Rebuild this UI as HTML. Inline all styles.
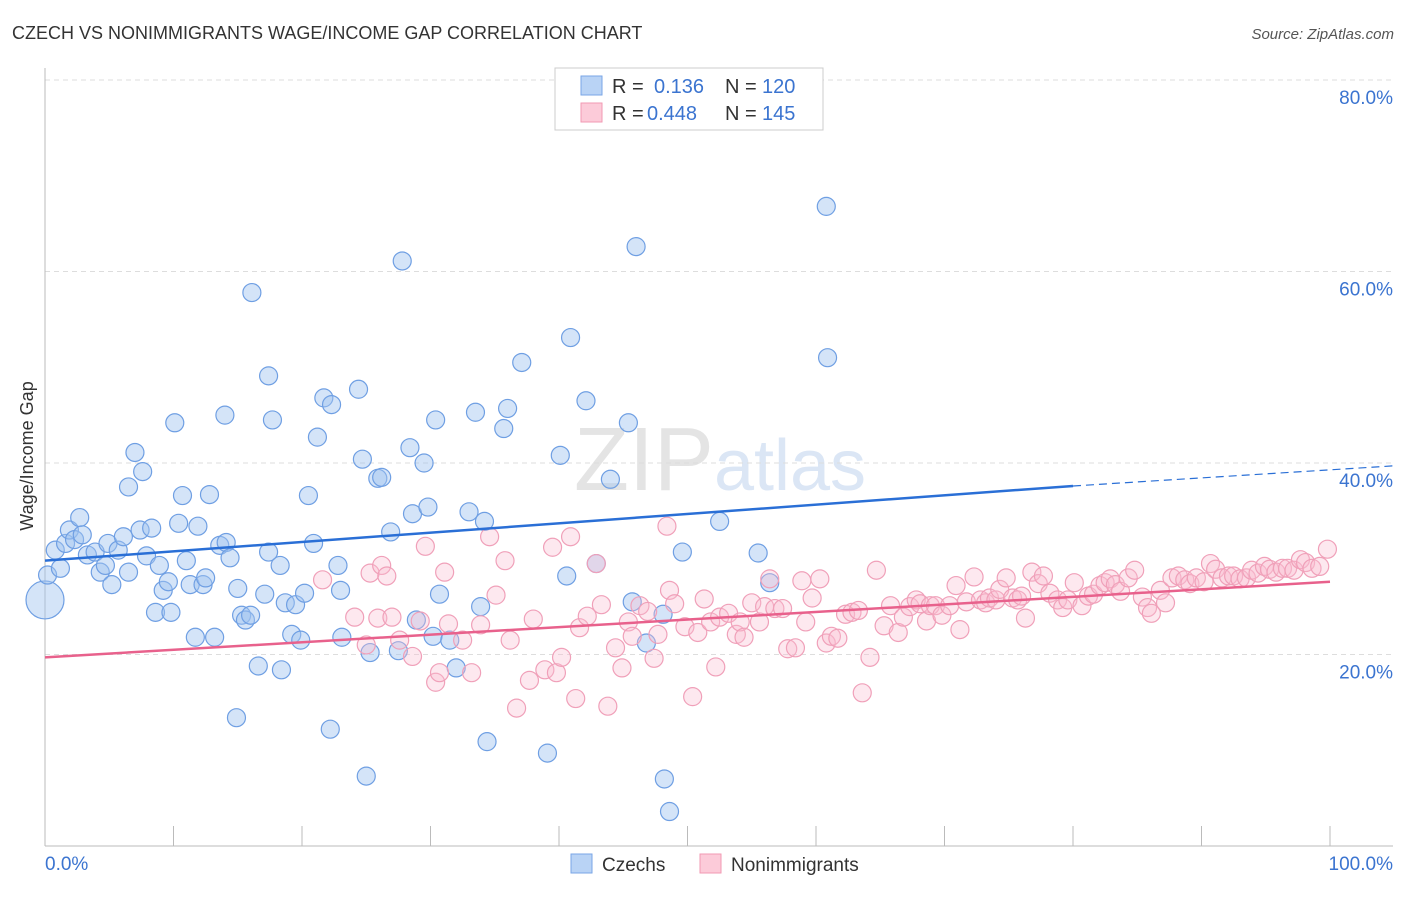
<!DOCTYPE html>
<html><head><meta charset="utf-8"><style>
body{margin:0;background:#fff;font-family:"Liberation Sans",sans-serif;}
svg text{font-family:"Liberation Sans",sans-serif;}
</style></head><body>
<svg id="chart" width="1406" height="892" xmlns="http://www.w3.org/2000/svg">
<text x="12" y="39" font-size="18" fill="#333">CZECH VS NONIMMIGRANTS WAGE/INCOME GAP CORRELATION CHART</text>
<text x="1394" y="39" font-size="15" fill="#555" text-anchor="end" font-style="italic">Source: ZipAtlas.com</text>
<text x="720" y="490" font-size="90" fill="#e4e4e4" text-anchor="middle" font-family="Liberation Serif">ZIP<tspan fill="#dbe6f5" font-family="Liberation Sans" font-size="72">atlas</tspan></text>
<g id="grid"></g>
<g id="axes"></g>
<g id="pts"></g>
<g id="trend"></g>
<text transform="translate(33,456) rotate(-90)" font-size="18" fill="#333" text-anchor="middle">Wage/Income Gap</text>
<g>
<rect x="555" y="68" width="268" height="62" fill="#fff" stroke="#ccc"/>
<rect x="581" y="76" width="21" height="19" fill="#b9d3f5" stroke="#79a6e6"/>
<rect x="581" y="103" width="21" height="19" fill="#fccbd9" stroke="#f29ab3"/>
<text x="612" y="93" font-size="20" fill="#333">R = </text><text x="654" y="93" font-size="20" fill="#3b74d0">0.136</text>
<text x="725" y="93" font-size="20" fill="#333">N = </text><text x="762" y="93" font-size="20" fill="#3b74d0">120</text>
<text x="612" y="120" font-size="20" fill="#333">R = </text><text x="647" y="120" font-size="20" fill="#3b74d0">0.448</text>
<text x="725" y="120" font-size="20" fill="#333">N = </text><text x="762" y="120" font-size="20" fill="#3b74d0">145</text>
</g>
<g>
<rect x="571" y="854" width="21" height="19" fill="#b9d3f5" stroke="#79a6e6"/>
<text x="602" y="871" font-size="19" fill="#333">Czechs</text>
<rect x="700" y="854" width="21" height="19" fill="#fccbd9" stroke="#f29ab3"/>
<text x="731" y="871" font-size="19" fill="#333">Nonimmigrants</text>
</g>
</svg>
<script>
const yTicks=[20,40,60,80];
const yTickLabels=["20.0%","40.0%","60.0%","80.0%"];
const xTicks=[0,10,20,30,40,50,60,70,80,90,100];
const czX=[0,0.2,0.8,1.2,1.6,1.9,2.3,2.7,2.9,3.3,3.9,4.3,4.7,4.9,5.2,5.7,6.1,6.5,7.0,7.4,7.6,6.5,7.9,8.3,8.6,8.9,9.2,9.6,9.8,10.1,10.4,10.7,11.0,11.3,11.7,11.9,12.3,12.5,12.8,13.2,13.6,14.0,14.1,14.4,15.0,14.9,15.3,15.6,16.0,16.1,16.6,17.1,17.4,17.4,17.7,18.3,18.4,18.7,19.2,19.5,19.9,20.2,20.5,20.9,21.2,21.7,22.2,22.3,22.8,23.0,23.1,24.4,24.7,25.0,25.3,25.9,26.2,26.9,27.5,27.8,28.4,28.6,28.9,29.5,29.8,30.2,30.4,30.7,31.5,32.0,33.0,33.5,33.9,34.2,34.4,35.7,36.0,37.1,39.1,40.1,40.6,40.9,42.1,42.9,44.0,45.4,45.7,46.0,46.8,48.1,48.2,48.6,49.6,52.5,55.5,56.4,60.8,60.9];
const czY=[25.7,28.3,30.9,29.0,31.6,33.0,32.0,34.3,32.5,30.4,30.7,28.6,29.3,31.6,27.3,30.9,32.3,28.6,41.1,33.0,39.1,37.5,30.3,33.2,24.4,29.3,26.7,27.6,24.4,44.2,33.7,36.6,29.8,27.3,21.8,33.4,27.3,28.0,36.7,21.8,31.4,45.0,31.7,30.1,26.9,13.4,24.1,23.6,24.1,57.8,18.8,26.3,49.1,30.7,44.5,29.3,18.4,25.4,22.1,25.2,21.5,26.4,36.6,31.6,42.7,46.8,12.2,46.1,29.3,26.7,21.8,47.7,40.4,7.3,20.2,38.4,38.5,32.8,20.4,61.1,41.6,34.7,23.6,40.0,35.4,21.9,44.5,26.3,21.5,18.6,34.9,45.3,25.0,33.9,10.9,43.6,45.7,50.5,9.7,40.8,28.2,53.1,46.5,29.5,38.3,44.2,25.5,62.6,21.2,24.2,7.0,3.6,30.7,33.9,30.6,27.5,66.8,51.0];
const niX=[21.6,24.1,25.0,25.3,25.9,26.2,26.6,27.0,27.6,28.6,29.2,29.6,30.4,30.7,31.1,31.4,32.5,33.2,33.9,34.6,35.1,35.8,36.2,36.7,37.7,38.0,38.9,39.5,39.8,40.2,40.9,41.3,41.6,42.2,42.9,43.3,43.8,44.4,44.9,45.4,45.7,46.3,46.9,47.4,47.7,48.4,48.6,49.0,49.8,50.4,50.8,51.3,51.8,52.2,52.5,53.2,53.8,54.1,54.4,55.0,55.6,56.0,56.4,56.8,57.4,57.8,58.4,58.9,59.2,59.7,60.3,60.8,61.2,61.7,62.3,62.8,63.3,63.6,64.2,64.7,65.3,65.8,66.4,66.8,67.3,67.8,68.1,68.6,68.9,69.3,69.8,70.4,70.9,71.2,71.7,72.3,72.8,73.2,73.5,74.0,74.3,74.8,75.3,75.7,76.0,76.3,76.8,77.3,77.7,78.2,78.8,79.2,79.6,80.1,80.7,81.2,81.6,82.1,82.5,82.9,83.3,83.7,84.3,84.8,85.4,85.8,86.1,86.8,87.2,87.7,88.2,88.7,89.1,89.6,90.2,90.7,91.1,91.6,92.1,92.5,93.0,93.5,93.9,94.4,94.9,95.3,95.8,96.3,96.7,97.2,97.7,98.1,98.6,99.2,99.8];
const niY=[27.8,23.9,21.0,28.5,23.8,29.3,28.2,23.9,21.5,19.8,23.5,31.3,17.1,18.1,28.6,23.2,21.5,18.1,23.1,32.3,26.2,29.8,21.5,14.4,17.3,23.7,18.4,31.2,18.1,19.7,32.3,15.4,22.8,24.0,29.5,25.2,14.6,20.7,18.6,23.4,21.9,25.1,24.5,19.6,22.1,33.4,26.7,25.3,22.9,15.6,22.3,25.8,23.4,18.7,23.9,24.3,22.1,23.4,21.8,25.4,23.4,25.0,27.9,24.8,24.8,20.6,20.7,27.7,23.4,25.9,27.9,21.2,21.9,21.7,24.2,24.4,24.6,16.0,19.7,28.8,23.0,25.1,22.3,23.9,25.0,25.7,25.3,23.5,25.1,25.1,24.1,25.1,27.2,22.6,25.5,28.1,25.7,25.4,25.9,25.7,26.8,28.0,25.9,25.7,26.1,23.8,28.6,27.4,28.2,26.4,25.7,24.9,25.7,27.5,25.1,26.1,26.3,27.2,27.5,27.9,27.3,26.6,28.0,28.8,26.0,24.9,24.3,26.7,25.4,28.0,28.2,27.8,27.4,28.0,27.6,29.5,28.9,28.0,28.2,28.2,27.9,28.0,28.8,28.5,29.2,28.9,28.6,29.0,29.0,28.8,29.9,29.6,29.0,29.2,31.0];
const czTrend=[0,29.8,80,37.6,104.9,39.7];
const niTrend=[0,19.7,100,27.6];

const NS="http://www.w3.org/2000/svg";
const X=v=>45+v*12.85, Y=v=>846-v*9.575;
function mk(tag,attrs,parent){const e=document.createElementNS(NS,tag);for(const k in attrs)e.setAttribute(k,attrs[k]);parent.appendChild(e);return e;}
const grid=document.getElementById('grid'),axes=document.getElementById('axes'),pts=document.getElementById('pts'),tr=document.getElementById('trend');
yTicks.forEach((t,i)=>{
 const l=mk('line',{x1:45,x2:1393,y1:Y(t),y2:Y(t),stroke:'#ddd','stroke-dasharray':'5,4'},grid);
 
 
 const tx=mk('text',{x:1393,y:Y(t)+24,'font-size':19,fill:'#3b74d0','text-anchor':'end'},axes);
 tx.textContent=yTickLabels[i];
 
 
});
mk('line',{x1:45,x2:45,y1:68,y2:846,stroke:'#bbb'},axes);
mk('line',{x1:45,x2:1393,y1:846,y2:846,stroke:'#bbb'},axes);
xTicks.forEach(t=>{const l=mk('line',{x1:X(t),x2:X(t),y1:826,y2:846,stroke:'#bbb'},axes);
 
 });
const x0=mk('text',{x:45,y:870,'font-size':19,fill:'#3b74d0'},axes);x0.textContent='0.0%';


const x1=mk('text',{x:1393,y:870,'font-size':19,fill:'#3b74d0','text-anchor':'end'},axes);x1.textContent='100.0%';


czX.forEach((v,i)=>{const c=mk('circle',{cx:X(v),cy:Y(czY[i]),r:i==0?19:9,fill:'rgba(160,196,240,0.45)',stroke:'#6f9fe3','stroke-width':1.2},pts);
 
 });
niX.forEach((v,i)=>{const c=mk('circle',{cx:X(v),cy:Y(niY[i]),r:9,fill:'rgba(250,190,208,0.35)',stroke:'#f0a0b9','stroke-width':1.2},pts);
 
 });
const a=mk('line',{x1:X(czTrend[0]),y1:Y(czTrend[1]),x2:X(czTrend[2]),y2:Y(czTrend[3]),stroke:'#2a6fd6','stroke-width':2.5},tr);


const b=mk('line',{x1:X(czTrend[2]),y1:Y(czTrend[3]),x2:X(czTrend[4]),y2:Y(czTrend[5]),stroke:'#2a6fd6','stroke-width':1.2,'stroke-dasharray':'8,5'},tr);


const p=mk('line',{x1:X(niTrend[0]),y1:Y(niTrend[1]),x2:X(niTrend[2]),y2:Y(niTrend[3]),stroke:'#e8618c','stroke-width':2.5},tr);


</script>
</body></html>
